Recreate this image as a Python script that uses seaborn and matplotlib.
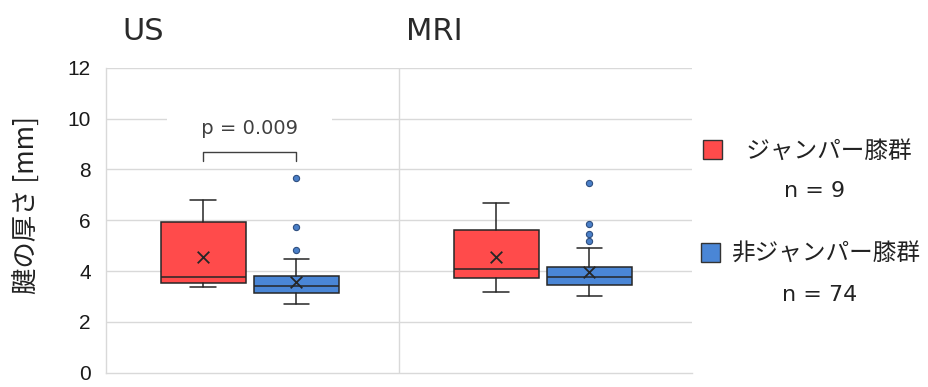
import matplotlib
matplotlib.use("Agg")
import matplotlib.pyplot as plt
import seaborn as sns
import pandas as pd
from matplotlib.patches import Rectangle

# ---- data ----
methods = ["US", "MRI"]
groups = ["ジャンパー膝群", "非ジャンパー膝群"]
group_n = [9, 74]
colors = ["#FF4B4B", "#4A86D6"]

# per method: [jumper, non-jumper]
whislo = {"US": [3.37, 2.69], "MRI": [3.18, 3.03]}
q1 = {"US": [3.54, 3.13], "MRI": [3.72, 3.45]}
med = {"US": [3.76, 3.43], "MRI": [4.07, 3.78]}
q3 = {"US": [5.94, 3.81], "MRI": [5.62, 4.15]}
whishi = {"US": [6.80, 4.49], "MRI": [6.69, 4.92]}
means = {"US": [4.57, 3.57], "MRI": [4.54, 3.95]}
outliers = {"US": [[], [7.65, 5.75, 4.83]],
            "MRI": [[], [7.46, 5.85, 5.45, 5.19]]}
p_text = "p = 0.009"
yticks = [0, 2, 4, 6, 8, 10, 12]

sns.set_theme(style="white")
FAM = ["DejaVu Sans", "Noto Sans CJK JP"]
plt.rcParams["font.family"] = FAM

fig = plt.figure(figsize=(9.29, 3.87), dpi=100)
W, H = 929, 387
ax = fig.add_axes([106 / W, 1 - 372.7 / H, (692 - 106) / W, (372.7 - 67.7) / H])

offsets = [-0.168, 0.150]
bw = 0.29

stats, pos, cols = [], [], []
mean_rows, out_rows = [], []
for i, m in enumerate(methods):
    for j, g in enumerate(groups):
        stats.append(dict(whislo=whislo[m][j], q1=q1[m][j], med=med[m][j],
                          q3=q3[m][j], whishi=whishi[m][j], fliers=[], mean=means[m][j]))
        pos.append(i + offsets[j])
        cols.append(colors[j])
        mean_rows.append(dict(x=i + offsets[j], y=means[m][j], grp=g))
        for v in outliers[m][j]:
            out_rows.append(dict(x=i + offsets[j], y=v, grp=g))

ec = "#262626"
bp = ax.bxp(stats, positions=pos, widths=bw, patch_artist=True, showfliers=False,
            capwidths=0.088,
            boxprops=dict(edgecolor=ec, linewidth=1.1),
            medianprops=dict(color=ec, linewidth=1.1),
            whiskerprops=dict(color=ec, linewidth=1.1),
            capprops=dict(color=ec, linewidth=1.1), manage_ticks=False)
for patch, c in zip(bp["boxes"], cols):
    patch.set_facecolor(c)
for art in bp["boxes"] + bp["medians"] + bp["whiskers"] + bp["caps"]:
    art.set_zorder(3)

mean_df = pd.DataFrame(mean_rows)
out_df = pd.DataFrame(out_rows)
sns.scatterplot(data=mean_df, x="x", y="y", marker="x", color=ec, s=70,
                linewidth=1.3, ax=ax, zorder=4, legend=False)
sns.scatterplot(data=out_df, x="x", y="y", color="#4A7FC8", edgecolor="#2F4F80",
                s=20, linewidth=0.8, ax=ax, zorder=4, legend=False)

ax.set_xlim(-0.5, 1.5)
ax.set_ylim(0, 12)
ax.set_yticks(yticks)
ax.set_yticklabels([str(t) for t in yticks], fontsize=15, color="#1a1a1a",
                   family=["Liberation Sans", "DejaVu Sans"])
ax.set_xticks([])
ax.set_xlabel("")
ax.set_ylabel("")
ax.tick_params(axis="y", length=0, pad=11)
for t in yticks[1:]:
    ax.axhline(t, color="#D9D9D9", linewidth=1.0, zorder=0)
ax.axvline(0.5, color="#D9D9D9", linewidth=1.0, zorder=0)
for s in ["top", "right"]:
    ax.spines[s].set_visible(False)
ax.spines["left"].set_color("#D9D9D9")
ax.spines["bottom"].set_color("#D9D9D9")
ax.spines["left"].set_linewidth(1.0)
ax.spines["bottom"].set_linewidth(1.0)

# significance bracket
xa, xb = offsets[0], offsets[1]
ax.plot([xa, xa, xb, xb], [8.32, 8.7, 8.7, 8.32], color="#404040", linewidth=1.0, zorder=4)
ax.text((xa + xb) / 2, 9.62, "     " + p_text + "     ", ha="center", va="center",
        fontsize=14, color="#404040", zorder=5,
        bbox=dict(boxstyle="square,pad=0.15", facecolor="white", edgecolor="none"))

# titles
fig.text(122 / W, 1 - 40 / H, "US", fontsize=22, color="#2a2a2a", ha="left", va="baseline")
fig.text(406 / W, 1 - 40 / H, "MRI", fontsize=22, color="#2a2a2a", ha="left", va="baseline")

# y label
fig.text(26 / W, 1 - 205 / H, "腱の厚さ [mm]", rotation=90, fontsize=19,
         color="#222222", ha="center", va="center", family=["Noto Sans CJK JP", "DejaVu Sans"])

# legend
sq = 19
leg_sq = [(703, 140), (701, 243)]
leg_txt = [(741, 151, " " + groups[0]), (731, 254, groups[1])]
n_pos = [(815, 191), (820, 295)]
for k in range(2):
    x0, y0 = leg_sq[k]
    fig.patches.append(Rectangle((x0 / W, 1 - (y0 + sq) / H), sq / W, sq / H,
                                 transform=fig.transFigure, facecolor=colors[k],
                                 edgecolor="#333333", linewidth=1.0))
    tx, ty, lab = leg_txt[k]
    fig.text(tx / W, 1 - ty / H, lab, fontsize=17, color="#222222", ha="left", va="center",
             family=["Noto Sans CJK JP", "DejaVu Sans"])
    nx, ny = n_pos[k]
    fig.text(nx / W, 1 - ny / H, f"n = {group_n[k]}", fontsize=16, color="#222222",
             ha="center", va="center")

fig.savefig("out.png", dpi=100, facecolor="white")
